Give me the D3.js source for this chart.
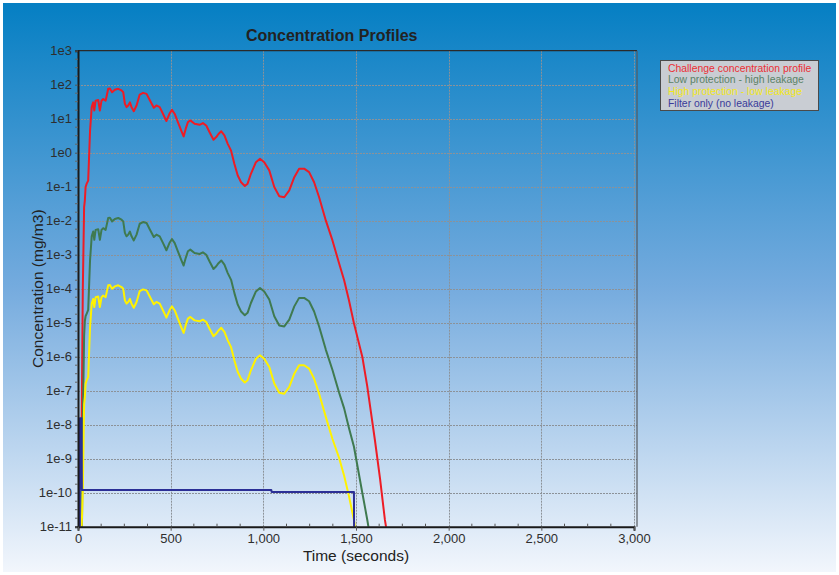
<!DOCTYPE html>
<html>
<head>
<meta charset="utf-8">
<script src="https://cdn.jsdelivr.net/npm/d3@7"></script>
<style>
  body { margin: 0; background: #ffffff; }
  svg { display: block; }
  text { font-family: "Liberation Sans", Arial, Helvetica, sans-serif; }
</style>
</head>
<body>
<svg id="chart" width="839" height="575"></svg>
<script>
// Sampling times (seconds) shared by the three exposure curves
const times = [
  20, 26, 33, 37, 41, 47, 55, 61, 65, 74, 82, 88, 95, 109, 118, 127, 136, 149,
  163, 172, 184, 199, 217, 235, 244, 253, 262, 271, 280, 289, 301, 316, 333, 351,
  370, 387, 409, 423, 441, 459, 477, 495, 507, 522, 539, 557, 570, 581, 593, 606,
  629, 656, 674, 692, 710, 731, 746, 758, 773, 790, 808, 826, 844, 862, 880, 900,
  915, 933, 960, 982, 1005, 1032, 1059, 1086, 1113, 1140, 1167, 1193, 1220, 1247,
  1274, 1301, 1337, 1373, 1409, 1436, 1462, 1489, 1534, 1561, 1579, 1602, 1630,
  1656, 1680
];

// Challenge concentration profile (mg/m3)
const challenge = [
  1.58e-8, 1.0e-4, 2.51e-2, 3.98e-2, 9.77e-2, 1.23e-1, 1.51e-1, 1.15, 4.47, 21.9,
  30.2, 17.4, 33.9, 35.5, 17.4, 33.9, 38.0, 33.9, 75.9, 77.6, 60.3, 70.8, 75.9,
  67.6, 60.3, 27.5, 21.9, 24.5, 30.2, 21.9, 16.6, 24.5, 51.3, 57.5, 53.7, 35.5,
  20.9, 24.5, 21.9, 13.8, 8.51, 14.5, 18.2, 13.8, 7.94, 4.47, 3.02, 5.01, 7.94,
  8.91, 7.08, 6.61, 7.41, 6.31, 3.98, 2.40, 2.88, 3.55, 4.27, 3.24, 1.82, 1.15,
  4.68e-1, 2.14e-1, 1.35e-1, 1.05e-1, 1.23e-1, 2.40e-1, 5.25e-1, 6.61e-1, 5.25e-1,
  3.02e-1, 9.77e-2, 5.25e-2, 4.90e-2, 7.76e-2, 1.91e-1, 3.39e-1, 3.39e-1, 2.69e-1,
  1.35e-1, 4.90e-2, 1.02e-2, 2.63e-3, 5.50e-4, 1.78e-4, 4.57e-5, 9.55e-6, 1.0e-6,
  1.32e-7, 2.69e-8, 3.55e-9, 2.51e-10, 1.58e-11, 2.51e-12
];

// Low protection - high leakage (mg/m3)
const lowProtection = [
  1.0e-12, 1.26e-8, 3.98e-6, 1.12e-5, 1.55e-5, 1.86e-5, 2.40e-5, 1.82e-4, 6.92e-4,
  3.47e-3, 4.79e-3, 2.75e-3, 5.37e-3, 5.62e-3, 2.75e-3, 5.37e-3, 6.03e-3, 5.37e-3,
  1.20e-2, 1.23e-2, 9.55e-3, 1.12e-2, 1.20e-2, 1.07e-2, 9.55e-3, 4.37e-3, 3.47e-3,
  3.89e-3, 4.79e-3, 3.47e-3, 2.63e-3, 3.89e-3, 8.13e-3, 9.12e-3, 8.51e-3, 5.62e-3,
  3.31e-3, 3.89e-3, 3.47e-3, 2.19e-3, 1.35e-3, 2.29e-3, 2.88e-3, 2.19e-3, 1.26e-3,
  7.08e-4, 4.79e-4, 7.94e-4, 1.26e-3, 1.41e-3, 1.12e-3, 1.05e-3, 1.17e-3, 1.0e-3,
  6.31e-4, 3.80e-4, 4.57e-4, 5.62e-4, 6.76e-4, 5.13e-4, 2.88e-4, 1.82e-4, 7.41e-5,
  3.39e-5, 2.14e-5, 1.66e-5, 1.95e-5, 3.80e-5, 8.32e-5, 1.05e-4, 8.32e-5, 4.79e-5,
  1.55e-5, 8.32e-6, 7.76e-6, 1.23e-5, 3.02e-5, 5.37e-5, 5.37e-5, 4.27e-5, 2.14e-5,
  7.76e-6, 1.62e-6, 4.07e-7, 8.71e-8, 3.02e-8, 7.94e-9, 2.24e-9, 1.0e-10, 1.58e-11,
  3.98e-12, 6.31e-13, 1.0e-13, 1.58e-14, 3.16e-15
];

// High protection - low leakage (mg/m3)
const highProtection = [
  1.0e-11, 1.26e-10, 3.98e-8, 6.61e-8, 1.62e-7, 2.04e-7, 2.51e-7, 1.91e-6, 7.41e-6,
  3.63e-5, 5.01e-5, 2.88e-5, 5.62e-5, 5.89e-5, 2.88e-5, 5.62e-5, 6.31e-5, 5.62e-5,
  1.26e-4, 1.29e-4, 1.0e-4, 1.17e-4, 1.26e-4, 1.12e-4, 1.0e-4, 4.57e-5, 3.63e-5,
  4.07e-5, 5.01e-5, 3.63e-5, 2.75e-5, 4.07e-5, 8.51e-5, 9.55e-5, 8.91e-5, 5.89e-5,
  3.47e-5, 4.07e-5, 3.63e-5, 2.29e-5, 1.41e-5, 2.40e-5, 3.02e-5, 2.29e-5, 1.32e-5,
  7.41e-6, 5.01e-6, 8.32e-6, 1.32e-5, 1.48e-5, 1.17e-5, 1.10e-5, 1.23e-5, 1.05e-5,
  6.61e-6, 3.98e-6, 4.79e-6, 5.89e-6, 7.08e-6, 5.37e-6, 3.02e-6, 1.91e-6, 7.76e-7,
  3.55e-7, 2.24e-7, 1.74e-7, 2.04e-7, 3.98e-7, 8.71e-7, 1.10e-6, 8.71e-7, 5.01e-7,
  1.62e-7, 8.71e-8, 8.13e-8, 1.29e-7, 3.16e-7, 5.62e-7, 5.62e-7, 4.47e-7, 2.24e-7,
  8.13e-8, 1.70e-8, 3.80e-9, 1.05e-9, 3.16e-10, 7.94e-11, 1.58e-11, 3.16e-13, 1.0e-13,
  3.16e-14, 1.0e-14, 1.0e-15, 1.0e-15, 1.0e-16
];

// Filter only (no leakage): its own step-shaped time base
const filterTimes = [10, 10, 19, 21, 1043, 1045, 1489, 1490];
const filterOnly  = [1.0e-12, 1.55e-8, 1.55e-8, 1.2e-10, 1.2e-10, 1.05e-10, 1.05e-10, 1.0e-12];

const xTicks = [0, 500, 1000, 1500, 2000, 2500, 3000];
const yTicks = [1e3, 1e2, 1e1, 1e0, 1e-1, 1e-2, 1e-3, 1e-4, 1e-5, 1e-6, 1e-7, 1e-8, 1e-9, 1e-10, 1e-11];

const legendLabels = [
  "Challenge concentration profile",
  "Low protection - high leakage",
  "High protection - low leakage",
  "Filter only (no leakage)"
];

// ---------------------------------------------------------------------------
const lineColors = ["#ee1c25", "#3f7a50", "#fff200", "#2b2f96"];
const legendColors = ["#ec2d35", "#5a8266", "#f3e81a", "#3a3a9a"];

const svg = d3.select("#chart");
const W = 839, H = 575;
const plot = { left: 78, right: 634, top: 50.7, bottom: 526.7, frameRight: 637 };

const defs = svg.append("defs");
const bg = defs.append("linearGradient").attr("id", "bgGrad")
  .attr("x1", 0).attr("y1", 0).attr("x2", 0).attr("y2", 1);
bg.append("stop").attr("offset", "0%").attr("stop-color", "#057fc3");
bg.append("stop").attr("offset", "50%").attr("stop-color", "#75abde");
bg.append("stop").attr("offset", "100%").attr("stop-color", "#f2f6fc");

defs.append("clipPath").attr("id", "plotClip").append("rect")
  .attr("x", plot.left).attr("y", plot.top)
  .attr("width", plot.frameRight - plot.left).attr("height", plot.bottom - plot.top);

svg.append("rect").attr("x", 3).attr("y", 3).attr("width", W - 6).attr("height", H - 6)
  .attr("fill", "url(#bgGrad)");

const x = d3.scaleLinear().domain([0, 3000]).range([plot.left, plot.right]);
const y = d3.scaleLog().domain([1e-11, 1e3]).range([plot.bottom, plot.top]);

// Grid
const grid = svg.append("g").attr("stroke", "#8c9298").attr("stroke-width", 1)
  .attr("stroke-dasharray", "2,1");
grid.selectAll("line.h").data(yTicks.slice(1, -1)).join("line")
  .attr("x1", plot.left).attr("x2", plot.frameRight)
  .attr("y1", d => Math.round(y(d)) + 0.5).attr("y2", d => Math.round(y(d)) + 0.5);
grid.selectAll("line.v").data(xTicks.slice(1)).join("line")
  .attr("y1", plot.top).attr("y2", plot.bottom)
  .attr("x1", d => Math.round(x(d)) + 0.5).attr("x2", d => Math.round(x(d)) + 0.5);

// Frame top/right
svg.append("line").attr("x1", plot.left).attr("x2", plot.frameRight)
  .attr("y1", plot.top).attr("y2", plot.top).attr("stroke", "#2a2a2a").attr("stroke-width", 1.2);
svg.append("line").attr("x1", plot.frameRight).attr("x2", plot.frameRight)
  .attr("y1", plot.top).attr("y2", plot.bottom).attr("stroke", "#555a60").attr("stroke-width", 1.2);

// Series
const line = d3.line().x(d => x(d[0])).y(d => y(d[1]));
const series = [
  d3.zip(times, challenge),
  d3.zip(times, lowProtection),
  d3.zip(times, highProtection),
  d3.zip(filterTimes, filterOnly)
];
const lines = svg.append("g").attr("clip-path", "url(#plotClip)");
series.forEach((s, i) => {
  lines.append("path").datum(s).attr("d", line)
    .attr("fill", "none").attr("stroke", lineColors[i])
    .attr("stroke-width", 2).attr("stroke-linejoin", "round");
});

// Axes
const yAxis = d3.axisLeft(y).tickValues(yTicks)
  .tickFormat(d => "1e" + Math.round(Math.log10(d)))
  .tickSize(3).tickPadding(3);
const yg = svg.append("g").attr("transform", `translate(${plot.left},0)`).call(yAxis);
yg.select(".domain").attr("stroke", "#1a1a1a").attr("stroke-width", 2);
yg.selectAll(".tick line").attr("stroke", "#555");
yg.selectAll(".tick text").attr("fill", "#2e2e2e").style("font-size", "13px");

// minor ticks: three per decade, evenly spaced in log units
const yMinor = [];
for (let e = -11; e < 3; e++) for (const f of [0.25, 0.5, 0.75]) yMinor.push(Math.pow(10, e + f));
svg.append("g").selectAll("line").data(yMinor).join("line")
  .attr("x1", plot.left - 3).attr("x2", plot.left)
  .attr("y1", d => y(d)).attr("y2", d => y(d))
  .attr("stroke", "#666").attr("stroke-width", 1);

const xAxis = d3.axisBottom(x).tickValues(xTicks).tickFormat(d3.format(","))
  .tickSize(4).tickPadding(3);
const xg = svg.append("g").attr("transform", `translate(0,${plot.bottom})`).call(xAxis);
xg.select(".domain").attr("stroke", "#1a1a1a").attr("stroke-width", 2);
xg.selectAll(".tick line").attr("stroke", "#555");
xg.selectAll(".tick text").attr("fill", "#2e2e2e").style("font-size", "13px");

const xMinor = d3.range(125, 3000, 125).filter(v => v % 500 !== 0);
svg.append("g").selectAll("line").data(xMinor).join("line")
  .attr("x1", d => x(d)).attr("x2", d => x(d))
  .attr("y1", plot.bottom - 3).attr("y2", plot.bottom)
  .attr("stroke", "#555").attr("stroke-width", 1);

// Titles
svg.append("text").attr("x", 331.7).attr("y", 40.7).attr("text-anchor", "middle")
  .style("font-size", "16px").style("font-weight", "bold").attr("fill", "#222")
  .text("Concentration Profiles");
svg.append("text").attr("x", (plot.left + plot.right) / 2).attr("y", 560.7)
  .attr("text-anchor", "middle").style("font-size", "15.5px").attr("fill", "#222")
  .text("Time (seconds)");
svg.append("text")
  .attr("transform", `translate(43,${(plot.top + plot.bottom) / 2}) rotate(-90)`)
  .attr("text-anchor", "middle").style("font-size", "15.5px").attr("fill", "#222")
  .text("Concentration (mg/m3)");

// Legend
const lg = svg.append("g");
lg.append("rect").attr("x", 660.5).attr("y", 60.5).attr("width", 158).attr("height", 50)
  .attr("fill", "#c9cdd3").attr("stroke", "#4a4a4a").attr("stroke-width", 1);
lg.selectAll("text").data(legendLabels).join("text")
  .attr("x", 668).attr("y", (d, i) => 71.7 + i * 11.7)
  .style("font-size", "10.4px").attr("fill", (d, i) => legendColors[i])
  .text(d => d);
</script>
</body>
</html>
